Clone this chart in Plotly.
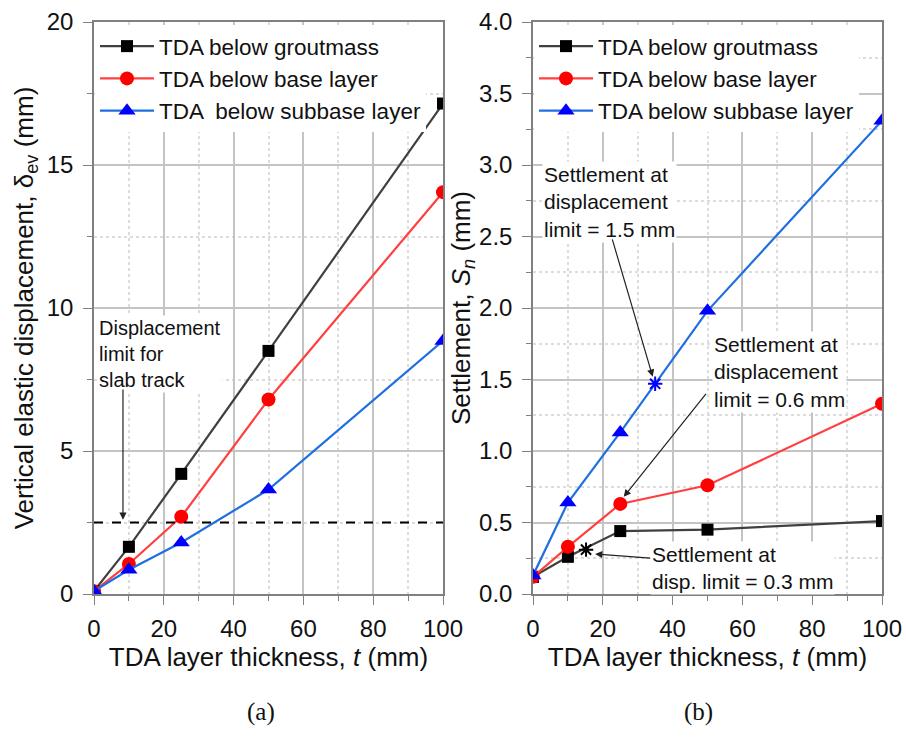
import plotly.graph_objects as go

# ---------------- data ----------------
t = [0, 10, 25, 50, 100]
disp_grout = [0.1, 1.65, 4.2, 8.5, 17.15]
disp_base = [0.1, 1.05, 2.7, 6.8, 14.05]
disp_subbase = [0.1, 0.85, 1.8, 3.65, 8.85]
settle_grout = [0.12, 0.26, 0.44, 0.45, 0.51]
settle_base = [0.12, 0.33, 0.63, 0.76, 1.33]
settle_subbase = [0.13, 0.64, 1.13, 1.98, 3.31]
limit_x = [0, 100]
limit_y = [2.5, 2.5]
star_sub_x, star_sub_y = [35], [1.47]
star_gr_x, star_gr_y = [15.2], [0.31]
series_names = ["TDA below groutmass", "TDA below base layer", "TDA  below subbase layer"]
series_names_b = ["TDA below groutmass", "TDA below base layer", "TDA below subbase layer"]

FONT = "Liberation Sans, Arial, sans-serif"
TXT = "#111111"
line_cols = ["#404040", "#ff4040", "#1f6fe0"]
mark_cols = ["#000000", "#ff0000", "#0000ff"]
symbols = ["square", "circle", "triangle-up"]
msize = [12, 14, 15]

fig = go.Figure()

for i, ys in enumerate([disp_grout, disp_base, disp_subbase]):
    fig.add_trace(go.Scatter(x=t, y=ys, mode="lines+markers", name=series_names[i],
                             line=dict(color=line_cols[i], width=2.2),
                             marker=dict(symbol=symbols[i], size=msize[i], color=mark_cols[i]),
                             xaxis="x", yaxis="y", legend="legend"))
fig.add_trace(go.Scatter(x=limit_x, y=limit_y, mode="lines", showlegend=False,
                         line=dict(color="black", width=2, dash="dash"), xaxis="x", yaxis="y"))

for i, ys in enumerate([settle_grout, settle_base, settle_subbase]):
    fig.add_trace(go.Scatter(x=t, y=ys, mode="lines+markers", name=series_names_b[i],
                             line=dict(color=line_cols[i], width=2.2),
                             marker=dict(symbol=symbols[i], size=msize[i], color=mark_cols[i]),
                             xaxis="x2", yaxis="y2", legend="legend2"))
fig.add_trace(go.Scatter(x=star_sub_x, y=star_sub_y, mode="markers", showlegend=False,
                         marker=dict(symbol="asterisk-open", size=12, color="#0000ff",
                                     line=dict(color="#0000ff", width=2)),
                         xaxis="x2", yaxis="y2"))
fig.add_trace(go.Scatter(x=star_gr_x, y=star_gr_y, mode="markers", showlegend=False,
                         marker=dict(symbol="asterisk-open", size=12, color="#000000",
                                     line=dict(color="#000000", width=2)),
                         xaxis="x2", yaxis="y2"))

def xax(domain, anchor):
    return dict(domain=domain, anchor=anchor, range=[0, 100], tick0=0, dtick=20, automargin=False,
                ticks="outside", ticklen=9, tickwidth=1, tickcolor="#808080", ticklabelstandoff=3,
                showline=True, linecolor="#808080", linewidth=1.5, mirror=True,
                showgrid=True, gridcolor="#c4c4c4", gridwidth=1.5, zeroline=False,
                minor=dict(dtick=10, ticks="outside", ticklen=5, tickcolor="#808080",
                           showgrid=True, gridcolor="#dcdcdc", griddash="dot"),
                tickfont=dict(size=24, family=FONT, color=TXT),
                title=dict(text="TDA layer thickness, <i>t</i> (mm)",
                           font=dict(size=26, family=FONT, color=TXT), standoff=0))

def yax(domain, anchor, rng, dt, mdt, fmt, title, standoff):
    return dict(domain=domain, anchor=anchor, range=rng, tick0=0, dtick=dt, tickformat=fmt,
                automargin=False,
                ticks="outside", ticklen=9, tickwidth=1, tickcolor="#808080", ticklabelstandoff=5,
                showline=True, linecolor="#808080", linewidth=1.5, mirror=True,
                showgrid=True, gridcolor="#c4c4c4", gridwidth=1.5, zeroline=False,
                minor=dict(dtick=mdt, ticks="outside", ticklen=5, tickcolor="#808080",
                           showgrid=True, gridcolor="#dcdcdc", griddash="dot"),
                tickfont=dict(size=24, family=FONT, color=TXT),
                title=dict(text=title, font=dict(size=26, family=FONT, color=TXT), standoff=standoff))

ydom = [1 - 594 / 747, 1 - 22 / 747]
fig.update_layout(
    width=906, height=747, margin=dict(l=0, r=0, t=0, b=0),
    paper_bgcolor="white", plot_bgcolor="white",
    xaxis=xax([94 / 906, 443 / 906], "y"),
    yaxis=yax(ydom, "x", [0, 20], 5, 2.5, "d", "Vertical elastic displacement, δ<sub>ev</sub> (mm)", 6),
    xaxis2=xax([533 / 906, 882 / 906], "y2"),
    yaxis2=yax(ydom, "x2", [0, 4], 0.5, 0.25, ".1f", "Settlement, <i>S<sub>n</sub></i> (mm)", 1),
    legend=dict(x=95 / 906, y=1 - 25 / 747, xanchor="left", yanchor="top", bgcolor="white",
                font=dict(size=22.5, family=FONT, color=TXT), itemwidth=54, tracegroupgap=0),
    legend2=dict(x=534 / 906, y=1 - 25 / 747, xanchor="left", yanchor="top", bgcolor="white",
                 font=dict(size=22.5, family=FONT, color=TXT), itemwidth=54, tracegroupgap=0),
    showlegend=True,
)

annots = []
# left panel text and arrow
annots.append(dict(xref="x", yref="y", x=1.0, y=9.75, xanchor="left", yanchor="top", align="left",
                   text="Displacement<br>limit for<br>slab track", showarrow=False, bgcolor="white",
                   font=dict(size=20, family=FONT, color=TXT)))
annots.append(dict(xref="x", yref="y", x=8.3, y=2.6, axref="x", ayref="y", ax=8.3, ay=7.2, text="",
                   showarrow=True, arrowhead=2, arrowsize=1.2, arrowwidth=1.2, arrowcolor="#222"))
# right panel
annots.append(dict(xref="x2", yref="y2", x=2.5, y=3.03, xanchor="left", yanchor="top", align="left",
                   text="Settlement at<br>displacement<br>limit = 1.5 mm", showarrow=False, bgcolor="white",
                   font=dict(size=21, family=FONT, color=TXT)))
annots.append(dict(xref="x2", yref="y2", x=34.3, y=1.52, axref="x2", ayref="y2", ax=22.6, ay=2.49, text="",
                   showarrow=True, arrowhead=2, arrowsize=1.2, arrowwidth=1.2, arrowcolor="#222"))
annots.append(dict(xref="x2", yref="y2", x=51.3, y=1.84, xanchor="left", yanchor="top", align="left",
                   text="Settlement at<br>displacement<br>limit = 0.6 mm", showarrow=False, bgcolor="white",
                   font=dict(size=21, family=FONT, color=TXT)))
annots.append(dict(xref="x2", yref="y2", x=26.0, y=0.68, axref="x2", ayref="y2", ax=49.9, ay=1.41, text="",
                   showarrow=True, arrowhead=2, arrowsize=1.2, arrowwidth=1.2, arrowcolor="#222"))
annots.append(dict(xref="x2", yref="y2", x=33.6, y=0.37, xanchor="left", yanchor="top", align="left",
                   text="Settlement at<br>disp. limit = 0.3 mm", showarrow=False, bgcolor="white",
                   font=dict(size=21, family=FONT, color=TXT)))
annots.append(dict(xref="x2", yref="y2", x=17.8, y=0.28, axref="x2", ayref="y2", ax=34.0, ay=0.25, text="",
                   showarrow=True, arrowhead=2, arrowsize=1.2, arrowwidth=1.2, arrowcolor="#222"))
# captions
annots.append(dict(xref="paper", yref="paper", x=245 / 906, y=1 - 712 / 747, yanchor="middle",
                   text="(a)", showarrow=False,
                   font=dict(size=25, family="Liberation Serif, Times New Roman, serif", color=TXT)))
annots.append(dict(xref="paper", yref="paper", x=715 / 906, y=1 - 712 / 747, yanchor="middle",
                   text="(b)", showarrow=False,
                   font=dict(size=25, family="Liberation Serif, Times New Roman, serif", color=TXT)))
fig.update_layout(annotations=annots)

fig.write_html("out.html")
